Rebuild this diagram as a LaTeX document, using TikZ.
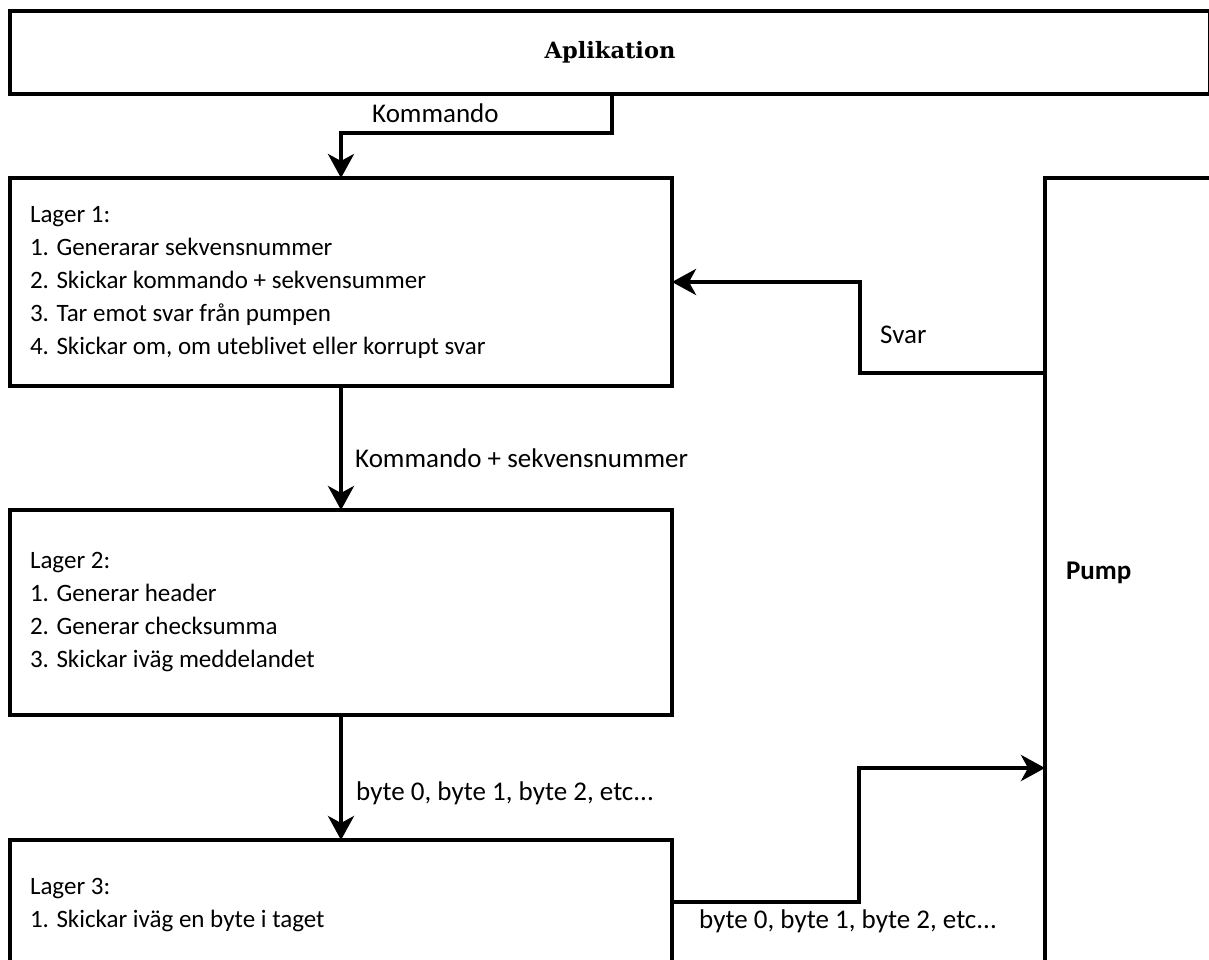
\documentclass[tikz,border=0pt]{standalone}
\usepackage{fontspec}
\setmainfont{Carlito}
\newfontfamily\titlefont{DejaVu Serif}
\usetikzlibrary{arrows.meta,calc}

\tikzset{
    box/.style={draw, line width=4pt, rectangle, outer sep=0pt, anchor=north west,
        font=\fontsize{25}{33}\selectfont},
    layer/.style={box, text width=622pt, align=flush left, inner xsep=20pt, inner ysep=0pt,
        minimum width=662pt},
    flow/.style={line width=4pt, -{Stealth[length=24pt, width=26pt, inset=7pt]}},
    lbl/.style={anchor=base west, inner sep=0pt, font=\fontsize{27}{33}\selectfont}
}

\begin{document}
\begin{tikzpicture}[x=1pt, y=-1pt]
    \fill[white] (0,0) rectangle (1209,960);
    \clip (0,0) rectangle (1209,960);

    % Boxes
    \node[box, minimum width=1200pt, minimum height=83pt, font=\titlefont\bfseries\fontsize{22.5}{26}\selectfont]
        (app) at (10,11) {Aplikation};
    \node[layer, minimum height=208pt] (lay1) at (10,178)
        {Lager 1:\\1. Generarar sekvensnummer\\2. Skickar kommando + sekvensummer\\3. Tar emot svar från pumpen\\4. Skickar om, om uteblivet eller korrupt svar};
    \node[layer, minimum height=205pt] (lay2) at (10,510)
        {Lager 2:\\1. Generar header\\2. Generar checksumma\\3. Skickar iväg meddelandet};
    \node[layer, minimum height=130pt] (lay3) at (10,840)
        {Lager 3:\\1. Skickar iväg en byte i taget};
    \node[box, text width=213pt, align=flush left, inner xsep=21pt, inner ysep=0pt,
        minimum width=255pt, minimum height=790pt, font=\bfseries\fontsize{27}{33}\selectfont]
        (pump) at (1045,178) {Pump};

    % Bends
    \coordinate (kcmd) at ($(app.south west)+(602,39)$);
    \coordinate (svar) at ($(pump.north west)+(-185,195)$);
    \coordinate (bytes) at ($(lay3.north east)+(187,62)$);
    \coordinate (pin) at ($(pump.north west)+(0,590)$);

    % Edges
    \draw[flow] (app.south -| kcmd) -- (kcmd) -| (lay1.north);
    \draw[flow] (lay1.south) -- (lay2.north);
    \draw[flow] (lay2.south) -- (lay3.north);
    \draw[flow] (pump.west |- svar) -- (svar) |- (lay1.east);
    \draw[flow] (lay3.east |- bytes) -- (bytes) |- (pin);

    % Labels
    \node[lbl] (l_cmd) at (372,123) {Kommando};
    \node[lbl] (l_seq) at (355,467) {Kommando + sekvensnummer};
    \node[lbl] (l_svar) at (880,343) {Svar};
    \node[lbl] (l_byte1) at (356,800) {byte 0, byte 1, byte 2, etc...};
    \node[lbl] (l_byte2) at (699,928) {byte 0, byte 1, byte 2, etc...};
\end{tikzpicture}
\end{document}
